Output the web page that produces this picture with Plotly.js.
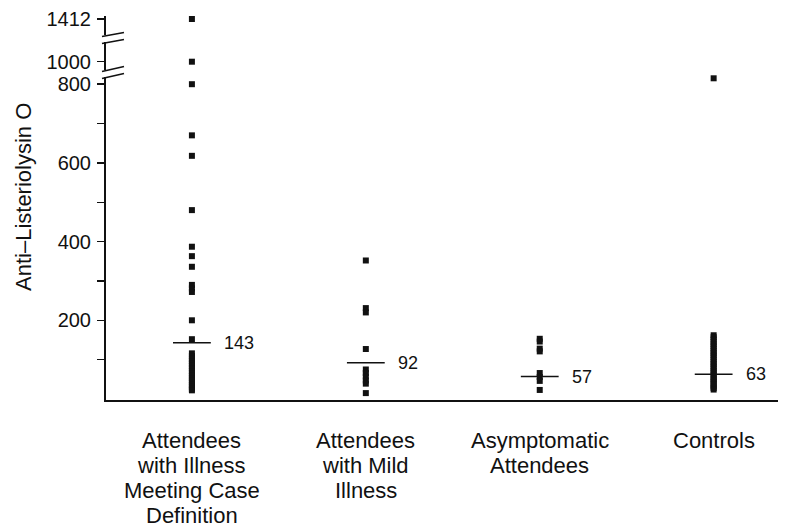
<!DOCTYPE html>
<html>
<head>
<meta charset="utf-8">
<script src="https://cdn.plot.ly/plotly-3.0.1.min.js"></script>
<style>html,body{margin:0;padding:0;background:#fff;}#chart{width:794px;height:531px;}</style>
</head>
<body>
<div id="chart"></div>
<script>
// ---- data ----
const categories = ['Case definition', 'Mild illness', 'Asymptomatic', 'Controls'];
const categoryLines = [
  ['Attendees', 'with Illness', 'Meeting Case', 'Definition'],
  ['Attendees', 'with Mild', 'Illness'],
  ['Asymptomatic', 'Attendees'],
  ['Controls']
];
const caseDefValues = [1412, 1000, 800, 670, 618, 480, 387, 363, 336, 290, 281, 272, 200, 152,
  116, 109, 102, 96, 90, 84, 78, 71, 65, 59, 53, 47, 42, 36, 31, 26, 22];
const mildValues = [352, 231, 220, 127, 75, 66, 57, 47, 39, 15];
const asymptomaticValues = [153, 146, 128, 121, 66, 56, 46, 23];
const controlValues = [815, 162, 157, 151, 145, 139, 134, 128, 122, 117, 111, 106, 100, 94, 89,
  83, 78, 72, 67, 62, 56, 51, 47, 42, 37, 32, 28, 24];
const medians = [143, 92, 57, 63];
const medianLabels = ['143', '92', '57', '63'];
const mainTickVals = [100, 200, 300, 400, 500, 600, 700, 800];
const mainTickText = ['', '200', '', '400', '', '600', '', '800'];
const midTickVals = [1000];
const topTickVals = [1412];
const yTitle = 'Anti–Listeriolysin O';

// ---- build traces ----
const groups = [caseDefValues, mildValues, asymptomaticValues, controlValues];
function segmentOf(v) { return v > 1200 ? 'y3' : (v > 900 ? 'y2' : 'y'); }
const seg = { y: { x: [], y: [] }, y2: { x: [], y: [] }, y3: { x: [], y: [] } };
groups.forEach((vals, i) => {
  vals.forEach(v => { const s = segmentOf(v); seg[s].x.push(categories[i]); seg[s].y.push(v); });
});
const markerStyle = { symbol: 'square', size: 6, color: '#111' };
const traces = ['y', 'y2', 'y3'].map(k => ({
  type: 'scatter', mode: 'markers', x: seg[k].x, y: seg[k].y, yaxis: k,
  marker: markerStyle, cliponaxis: false, hoverinfo: 'skip', showlegend: false
}));
traces.push({
  type: 'scatter', mode: 'markers', x: categories, y: medians, yaxis: 'y',
  marker: { symbol: 'line-ew', size: 27, color: '#111', line: { color: '#111', width: 1.5 } },
  cliponaxis: false, hoverinfo: 'skip', showlegend: false
});

const FAM = 'Liberation Sans, Arial, sans-serif';
const annotations = medians.map((m, i) => ({
  x: categories[i], y: m, xref: 'x', yref: 'y', text: medianLabels[i],
  showarrow: false, xanchor: 'left', yanchor: 'middle', xshift: 30,
  font: { family: FAM, size: 18, color: '#111' }
}));
categoryLines.forEach((lines, i) => {
  lines.forEach((t, k) => annotations.push({
    x: categories[i], y: 0, xref: 'x', yref: 'paper', text: t, showarrow: false,
    xanchor: 'center', yanchor: 'middle', yshift: -(40 + 25 * k),
    font: { family: FAM, size: 22, color: '#111' }
  }));
});

// ---- layout (pixel geometry of axis break) ----
const L = 106, R = 778, T = 16, B = 400;
const px2py = py => (B - py) / (B - T);
const px2px = px => (px - L) / (R - L);
annotations.push({
  x: px2px(23), y: px2py(197), xref: 'paper', yref: 'paper', text: yTitle, showarrow: false,
  textangle: -90, xanchor: 'center', yanchor: 'middle',
  font: { family: FAM, size: 22, color: '#111' }
});
const slashes = [[36.5, 32.5], [43.5, 39.5], [71.5, 66.5], [78.5, 73.5]].map(([y0, y1]) => ({
  type: 'line', xref: 'paper', yref: 'paper',
  x0: px2px(102), x1: px2px(124), y0: px2py(y0), y1: px2py(y1),
  line: { color: '#111', width: 1.6 }
}));

const font = { family: FAM, size: 20, color: '#111' };
const yCommon = {
  showline: true, linecolor: '#111', linewidth: 2, ticks: 'outside', ticklen: 7,
  tickwidth: 1.5, tickcolor: '#111', showgrid: false, zeroline: false,
  anchor: 'x', tickfont: font, fixedrange: true, ticklabelstandoff: 2
};
const scale = 0.3935; // px per unit
const zeroPx = 399;
const layout = {
  width: 794, height: 531,
  margin: { l: L, r: 794 - R, t: T, b: 531 - B },
  paper_bgcolor: '#fff', plot_bgcolor: '#fff',
  font: font,
  xaxis: {
    type: 'category', range: [-0.494, 3.37], showline: true, linecolor: '#111', linewidth: 2,
    ticks: '', showgrid: false, zeroline: false, showticklabels: false, anchor: 'y'
  },
  yaxis: {
    ...yCommon, domain: [0, px2py(77)], range: [(zeroPx - B) / scale, (zeroPx - 77) / scale],
    tickmode: 'array', tickvals: mainTickVals, ticktext: mainTickText
  },
  yaxis2: {
    ...yCommon, domain: [px2py(70), px2py(42)],
    range: [1000 - (70 - 61.7) / scale, 1000 + (61.7 - 42) / scale],
    tickmode: 'array', tickvals: midTickVals
  },
  yaxis3: {
    ...yCommon, domain: [px2py(35), 1],
    range: [1412 - (35 - 19) / scale, 1412 + (19 - 16) / scale],
    tickmode: 'array', tickvals: topTickVals
  },
  shapes: slashes,
  annotations: annotations
};
Plotly.newPlot('chart', traces, layout, { staticPlot: true, displayModeBar: false });
</script>
</body>
</html>
